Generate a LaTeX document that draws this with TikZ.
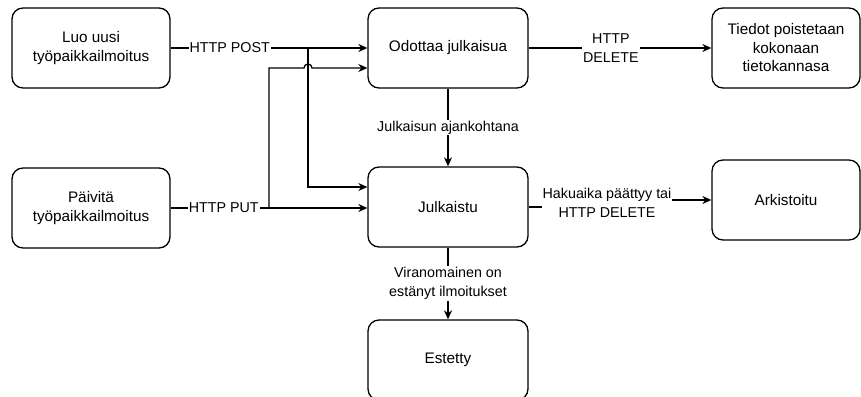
\documentclass[tikz,border=0pt]{standalone}
\usepackage{fontspec}
\setmainfont{Liberation Sans}
\usetikzlibrary{positioning, arrows, arrows.meta}

\begin{document}
\begin{tikzpicture}[x=1pt, y=-1pt,
  state/.style={draw, line width=1.3pt, rounded corners=11pt, minimum height=80pt,
    align=center, inner sep=2pt, font=\fontsize{15.3}{18.5}\selectfont},
  lbl/.style={fill=white, align=center, inner sep=1pt, font=\fontsize{14.3}{19}\selectfont},
  arr/.style={-{Stealth[length=9pt,width=8pt]}, line width=1.3pt}]
\useasboundingbox (0,0) rectangle (861,396);

% States
\node[state, minimum width=158pt] (luo) at (91,48) {Luo uusi\\työpaikkailmoitus};
\node[state, minimum width=158pt] (paivita) at (91,208) {Päivitä\\työpaikkailmoitus};
\node[state, minimum width=160pt] (odottaa) at (448,48) {Odottaa julkaisua};
\node[state, minimum width=160pt] (julkaistu) at (448,207) {Julkaistu};
\node[state, minimum width=160pt] (estetty) at (448,360) {Estetty};
\node[state, minimum width=148pt] (tiedot) at (786,48) {Tiedot poistetaan\\kokonaan\\tietokannasa};
\node[state, minimum width=148pt] (arkistoitu) at (786,200) {Arkistoitu};

% Split points of the two requests
\coordinate (postsplit) at (308,48);
\coordinate (putsplit) at (269,208);
\coordinate (hop) at (308,68);

% HTTP POST and HTTP PUT
\draw[arr] (luo.east) -- node[lbl, pos=0.3] (post) {HTTP POST} (odottaa.west |- luo.east);
\draw[arr] (postsplit) |- ([yshift=20pt]julkaistu.west);
\draw[arr] (paivita.east) -- node[lbl, pos=0.27] (put) {HTTP PUT} (julkaistu.west |- paivita.east);
\draw[arr] (putsplit) |- ([xshift=-4pt]hop) arc[start angle=180, end angle=0, radius=4pt]
  -- ([yshift=-20pt]odottaa.west);

% Transitions
\draw[arr] (odottaa) -- node[lbl, pos=0.45] (delete) {HTTP\\DELETE} (tiedot);
\draw[arr] (odottaa) -- node[lbl] (ajankohta) {Julkaisun ajankohtana} (julkaistu);
\draw[arr] (julkaistu.east) -- ++(79,0) |- (arkistoitu.west);
\node[lbl] (hakuaika) at (607,203) {Hakuaika päättyy tai\\HTTP DELETE};
\draw[arr] (julkaistu) -- node[lbl] (viranomainen) {Viranomainen on\\estänyt ilmoitukset} (estetty);
\end{tikzpicture}
\end{document}
